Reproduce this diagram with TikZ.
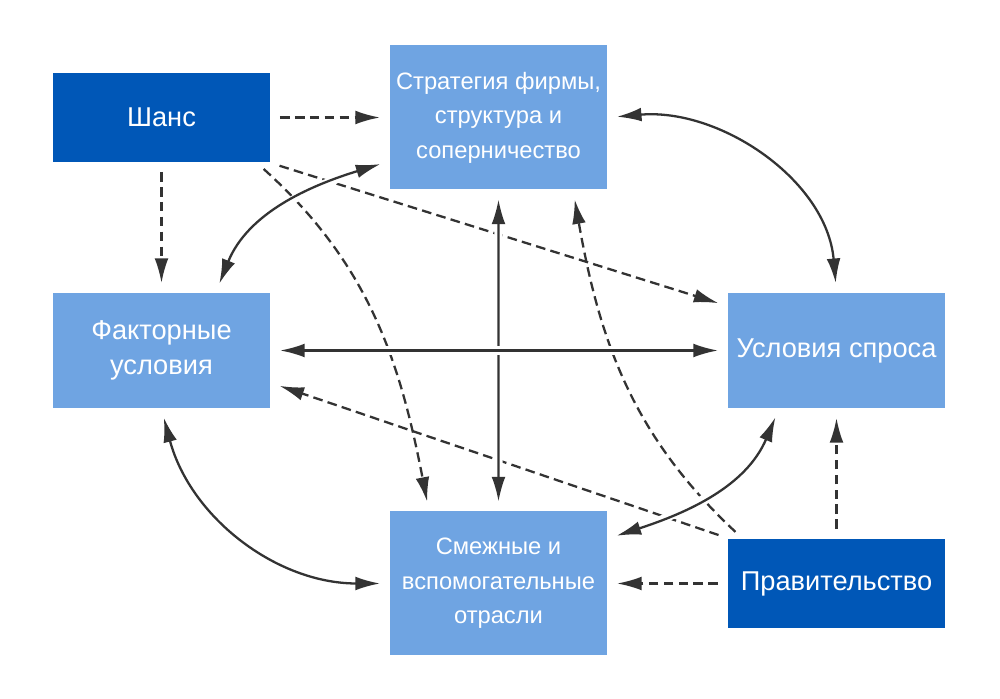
\documentclass[tikz,border=0pt]{standalone}
\usepackage{fontspec}
\setmainfont{Liberation Sans}
\usetikzlibrary{arrows.meta}
\definecolor{darkblue}{RGB}{0,87,183}
\definecolor{lightblue}{RGB}{111,164,226}
\definecolor{linegray}{RGB}{51,51,51}

\begin{document}
\begin{tikzpicture}[>={Latex[length=14pt,width=7.8pt]},shorten >=5pt,shorten <=5pt,node distance=4.66cm,line width=1.3pt,color=linegray,
    bigfont/.style={font=\fontsize{15.5}{19.8}\selectfont},
    smallfont/.style={font=\fontsize{13.5}{19.6}\selectfont},
    darkbox/.style={fill=darkblue, text=white, bigfont, minimum width=4.34cm, minimum height=1.78cm, inner sep=0pt, align=center},
    lightbox/.style={fill=lightblue, text=white, minimum width=4.34cm, inner sep=0pt, align=center},
    dashline/.style={dash pattern=on 5.5pt off 3pt},
    solidline/.style={preaction={draw=white, line width=4.8pt, -}},
]
                    \useasboundingbox (-3.23,2.35) rectangle (16.77,-11.63);

                    \node [darkbox](1) []{Шанс};
                    \node [lightbox, smallfont, minimum height=2.88cm](2) [right of = 1, xshift = 2.08cm]{Стратегия фирмы,\\структура и\\соперничество};
                    \node [lightbox, bigfont, minimum height=2.30cm](3) [below of = 1]{Факторные\\условия};
                    \node [lightbox, bigfont, minimum height=2.30cm](4) [right of = 3, xshift = 8.84cm]{Условия спроса};
                    \node [lightbox, smallfont, minimum height=2.88cm](5) [below of = 3, xshift = 6.74cm]{Смежные и\\вспомогательные\\отрасли};
                    \node [darkbox](6) [below of = 4]{Правительство};

                    % chance and government
                    \path[every edge/.style={draw, dashline, ->}]
                        (1) edge (2)
                        (1) edge (3)
                        (1.south east) edge ([yshift=-0.28cm]4.north west)
                        ([xshift=-0.28cm]1.south east) edge[out=-42, in=101] ([xshift=0.8cm]5.north west)
                        (6.north west) edge ([yshift=-0.65cm]3.east)
                        ([xshift=0.3cm]6.north west) edge[out=137, in=-80] ([xshift=-0.7cm]2.south east)
                        (6) edge (4)
                        (6) edge (5)
                    ;

                    % the diamond
                    \path[every edge/.style={draw, solidline, <->}]
                        ([xshift=1.09cm]3.north) edge[out=68, in=197] ([yshift=-0.88cm]2.west)
                        (2.east) edge[out=5, in=95] (4.north)
                        (3.south) edge[out=-75, in=180] (5.west)
                        ([yshift=0.9cm]5.east) edge[out=18, in=-113] ([xshift=1.04cm]4.south west)
                        (2) edge (5)
                        (3) edge (4)
                    ;

                \end{tikzpicture}
\end{document}
